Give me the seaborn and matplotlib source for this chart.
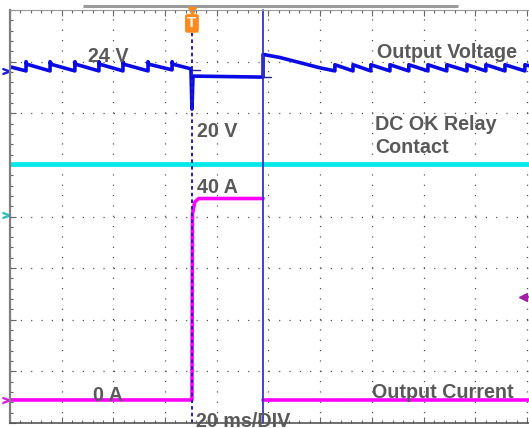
import numpy as np
import pandas as pd
import matplotlib.pyplot as plt
import seaborn as sns

# ---- data (time in ms, 20 ms/div) ----
t_volt = [0, 6.2, 6.2, 6.5, 15.5, 15.5, 15.8, 25.1, 25.1, 25.4, 34.4, 34.4, 34.7,
          43.7, 43.7, 44.0, 53.4, 53.4, 53.7, 62.7, 62.7, 63.0, 70.0, 70.4, 70.8,
          97.9, 97.9, 104.4, 112.2, 119.9, 125.7, 125.7, 132.7, 132.7, 139.6, 139.6,
          147.0, 147.0, 154.3, 154.3, 161.7, 161.7, 169.0, 169.0, 176.8, 176.8,
          184.1, 184.1, 191.5, 191.5, 199.2, 199.2, 200.8]
v_out = [24.1, 23.7, 24.6, 24.35, 23.7, 24.6, 24.35, 23.7, 24.6, 24.35, 23.7, 24.6, 24.35,
         23.7, 24.6, 24.35, 23.7, 24.6, 24.35, 23.8, 24.6, 24.35, 23.9, 20.0, 23.2,
         23.1, 25.3, 25.0, 24.5, 24.0, 23.7, 24.3, 23.7, 24.3, 23.7, 24.3,
         23.7, 24.3, 23.7, 24.3, 23.7, 24.3, 23.7, 24.3, 23.7, 24.3,
         23.7, 24.3, 23.7, 24.3, 23.7, 24.3, 24.2]

# output current, two pieces either side of the cursor
t_curr = [0, 70.4, 70.6, 71.5, 73.0, 97.9, 97.9, 200.8]
i_out = [0, 0, 37.0, 39.3, 40.0, 40.0, 0, 0]
i_piece = [0, 0, 0, 0, 0, 0, 1, 1]

t_relay = [0, 200.8]
relay_div = [5.02, 5.02]

t_trigger = 70.4
t_cursor = 97.9

# scope channel settings (volts/div, amps/div, offsets in div)
v_per_div, v_offset = 5.0, 2.08
a_per_div, a_offset = 10.25, 0.446

volt = pd.DataFrame({'t': t_volt, 'y': np.array(v_out) / v_per_div + v_offset})
curr = pd.DataFrame({'t': t_curr, 'y': np.array(i_out) / a_per_div + a_offset, 'piece': i_piece})
relay = pd.DataFrame({'t': t_relay, 'y': relay_div})

sns.set_style('white')
plt.rcParams['font.family'] = ['Liberation Sans', 'DejaVu Sans']
plt.rcParams['lines.scale_dashes'] = False

fig = plt.figure(figsize=(5.29, 4.28), dpi=100)
ax = fig.add_axes([10 / 529, 5 / 428, 519 / 529, 413 / 428])
ax.set_xlim(0, 200.8)
ax.set_ylim(0, 8)

# dotted graticule
ax.set_xticks(np.arange(0, 201, 20))
ax.set_yticks(np.arange(0, 9, 1))
ax.set_xticks(np.arange(0, 201, 4), minor=True)
ax.set_yticks(np.arange(0, 8.01, 0.2), minor=True)
ax.grid(True, which='major', color='#444444', lw=0.9, linestyle=(0, (0.8, 6.64)))
ax.tick_params(which='both', labelbottom=False, labelleft=False, direction='in',
               top=True, bottom=True, left=True, right=False)
ax.tick_params(which='major', length=4, width=0.8, color='#666666')
ax.tick_params(which='minor', length=2.5, width=0.8, color='#666666')

ax.spines['left'].set_color('#808080')
ax.spines['left'].set_linewidth(1.6)
ax.spines['bottom'].set_color('#555555')
ax.spines['bottom'].set_linewidth(1.2)
ax.spines['top'].set_color('#999999')
ax.spines['top'].set_linewidth(0.8)
ax.spines['right'].set_visible(False)

# record bar on top
ax.plot([73 / 519, 448 / 519], [1.0097, 1.0097], transform=ax.transAxes,
        color='#9a9a9a', lw=2.2, clip_on=False, solid_capstyle='butt')

# traces
sns.lineplot(data=relay, x='t', y='y', sort=False, estimator=None, ax=ax,
             color='#00e8e8', lw=3.4)
sns.lineplot(data=curr, x='t', y='y', units='piece', sort=False, estimator=None, ax=ax,
             color='#ff00ff', lw=2.6)
sns.lineplot(data=volt, x='t', y='y', sort=False, estimator=None, ax=ax,
             color='#0a0ae6', lw=2.6)
ax.set_xlabel('')
ax.set_ylabel('')

# trigger and cursor
ax.plot([t_trigger, t_trigger], [0, 7.58], color='#2222b0', lw=1.4,
        linestyle=(0, (2.6, 2.2)))
ax.plot([t_cursor, t_cursor], [0, 8.0], color='#3434c4', lw=1.3, clip_on=False)
ax.plot([t_trigger, t_trigger + 3], [23.8 / v_per_div + v_offset] * 2, color='#202090', lw=1)
ax.plot([t_cursor, t_cursor + 3], [23.1 / v_per_div + v_offset] * 2, color='#202090', lw=1)

# trigger flag
ax.plot([t_trigger], [7.98], marker='v', color='#ff8a1e', ms=6, clip_on=False)
ax.text(t_trigger, 7.74, 'T', color='white', fontsize=11, fontweight='bold',
        ha='center', va='center',
        bbox=dict(boxstyle='round,pad=0.15', fc='#ff8a1e', ec='none'))

# channel markers
ax.plot([-1.7], [24.0 / v_per_div + v_offset - 0.06], marker='$>$', color='#1a1ae0',
        ms=5, clip_on=False)
ax.plot([-1.7], [4.03], marker='$>$', color='#30c0c0', ms=5, clip_on=False)
ax.plot([-1.7], [a_offset], marker='$>$', color='#e020e0', ms=5, clip_on=False)
ax.plot([198.6], [2.44], marker='<', color='#a020a8', ms=5.5, clip_on=False)
ax.plot([199.2, 201], [2.44, 2.44], color='#a020a8', lw=1.2, clip_on=False)

# annotations
txt = dict(color='#595959', fontsize=14.2, fontweight='bold', ha='left', va='baseline')
ax.text(30.2, 6.99, '24 V', **txt)
ax.text(72.4, 5.54, '20 V', **txt)
ax.text(142.0, 7.07, 'Output Voltage', **txt)
ax.text(141.2, 5.675, 'DC OK Relay', **txt)
ax.text(141.2, 5.23, 'Contact', **txt)
ax.text(72.4, 4.455, '40 A', **txt)
ax.text(32.1, 0.43, '0 A', **txt)
ax.text(140.1, 0.484, 'Output Current', **txt)
ax.text(72.0, -0.083, '20 ms/DIV', clip_on=False, **txt)

fig.savefig('out.png', dpi=100)
